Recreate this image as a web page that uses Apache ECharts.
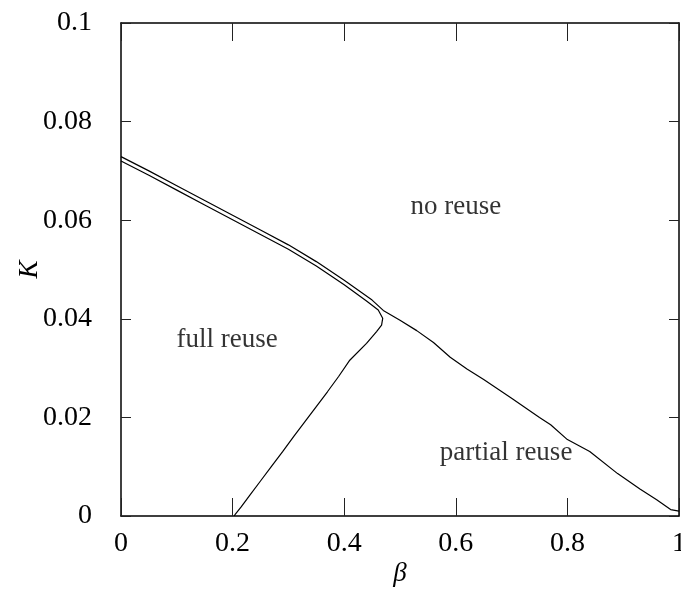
<!DOCTYPE html>
<html>
<head>
<meta charset="utf-8">
<script src="https://cdn.jsdelivr.net/npm/echarts@6/dist/echarts.min.js"></script>
<style>
  html, body { margin: 0; padding: 0; background: #fff; overflow: hidden; }
  #chart { width: 681px; height: 592px; }
</style>
</head>
<body>
<div id="chart"></div>
<script>
// Boundary between "no reuse" and the reuse regions (upper strand)
const betaNoReuse = [0.00, 0.05, 0.10, 0.15, 0.20, 0.25, 0.30, 0.35, 0.40, 0.45, 0.47, 0.50, 0.53, 0.56, 0.59, 0.62, 0.65, 0.70, 0.75, 0.77, 0.80, 0.84, 0.89, 0.93, 0.96, 0.985, 1.00];
const kNoReuse    = [0.0729, 0.0700, 0.0670, 0.0640, 0.0610, 0.0580, 0.0550, 0.0516, 0.0478, 0.0438, 0.0417, 0.0397, 0.0376, 0.0352, 0.0322, 0.0298, 0.0277, 0.0239, 0.0200, 0.0185, 0.0155, 0.0131, 0.0086, 0.0055, 0.0033, 0.0013, 0.0010];

// Boundary of the "full reuse" region (lower strand, then down to K = 0)
const betaFullReuse = [0.00, 0.05, 0.10, 0.15, 0.20, 0.25, 0.30, 0.35, 0.40, 0.44, 0.461, 0.469, 0.467, 0.458, 0.44, 0.41, 0.39, 0.37, 0.35, 0.33, 0.31, 0.29, 0.27, 0.25, 0.23, 0.215, 0.205, 0.203];
const kFullReuse    = [0.0720, 0.0691, 0.0661, 0.0631, 0.0601, 0.0571, 0.0541, 0.0507, 0.0469, 0.0436, 0.0418, 0.0401, 0.0387, 0.0374, 0.0350, 0.0316, 0.0283, 0.0252, 0.0222, 0.0192, 0.0162, 0.0131, 0.0101, 0.0071, 0.0041, 0.0018, 0.0004, 0.0000];

// Region annotations
const regionText = ['no reuse', 'full reuse', 'partial reuse'];
const regionBeta = [0.60, 0.19, 0.69];
const regionK    = [0.0626, 0.0358, 0.0128];

const xTicks = { min: 0, max: 1, interval: 0.2 };
const yTicks = { min: 0, max: 0.1, interval: 0.02 };

const pairs = (xs, ys) => xs.map((x, i) => [x, ys[i]]);
const FONT = 'Liberation Serif';

const chart = echarts.init(document.getElementById('chart'), null, { renderer: 'canvas' });

const axisLineStyle = { onZero: false, lineStyle: { color: '#000', width: 1.5 } };
const tickStyle = { color: '#222', width: 1 };

chart.setOption({
  animation: false,
  backgroundColor: '#fff',
  grid: { left: 121, right: 2, top: 23, bottom: 76, containLabel: false, outerBoundsMode: 'none' },
  xAxis: [
    {
      type: 'value', position: 'bottom', min: xTicks.min, max: xTicks.max, interval: xTicks.interval,
      axisLine: axisLineStyle,
      axisTick: { show: true, inside: true, length: 18, lineStyle: tickStyle },
      splitLine: { show: false },
      axisLabel: { color: '#000', fontFamily: FONT, fontSize: 28, margin: 14,
        formatter: v => String(+v.toFixed(2)) },
      name: 'β', nameLocation: 'middle', nameGap: 44, nameMoveOverlap: false,
      nameTextStyle: { fontFamily: FONT, fontStyle: 'italic', fontSize: 27, color: '#000' }
    },
    {
      type: 'value', position: 'top', min: xTicks.min, max: xTicks.max, interval: xTicks.interval,
      axisLine: axisLineStyle,
      axisTick: { show: true, inside: true, length: 18, lineStyle: tickStyle },
      splitLine: { show: false },
      axisLabel: { show: false }
    }
  ],
  yAxis: [
    {
      type: 'value', position: 'left', min: yTicks.min, max: yTicks.max, interval: yTicks.interval,
      axisLine: axisLineStyle,
      axisTick: { show: true, inside: true, length: 10, lineStyle: tickStyle },
      splitLine: { show: false },
      axisLabel: { color: '#000', fontFamily: FONT, fontSize: 28, margin: 29,
        formatter: v => String(+v.toFixed(2)) },
      name: 'K', nameLocation: 'middle', nameGap: 78, nameRotate: 90, nameMoveOverlap: false,
      nameTextStyle: { fontFamily: FONT, fontStyle: 'italic', fontSize: 27, color: '#000' }
    },
    {
      type: 'value', position: 'right', min: yTicks.min, max: yTicks.max, interval: yTicks.interval,
      axisLine: axisLineStyle,
      axisTick: { show: true, inside: true, length: 10, lineStyle: tickStyle },
      splitLine: { show: false },
      axisLabel: { show: false }
    }
  ],
  series: [
    {
      type: 'line', xAxisIndex: 0, yAxisIndex: 0,
      data: pairs(betaNoReuse, kNoReuse),
      showSymbol: false, symbol: 'none', smooth: false,
      lineStyle: { color: '#000', width: 1.2 }
    },
    {
      type: 'line', xAxisIndex: 0, yAxisIndex: 0,
      data: pairs(betaFullReuse, kFullReuse),
      showSymbol: false, symbol: 'none', smooth: false,
      lineStyle: { color: '#000', width: 1.2 }
    },
    {
      type: 'scatter', xAxisIndex: 0, yAxisIndex: 0, silent: true,
      symbolSize: 0,
      data: regionText.map((t, i) => ({ name: t, value: [regionBeta[i], regionK[i]] })),
      label: {
        show: true, position: 'inside', formatter: p => p.name,
        fontFamily: FONT, fontSize: 27, color: '#000'
      }
    }
  ]
});
</script>
</body>
</html>
